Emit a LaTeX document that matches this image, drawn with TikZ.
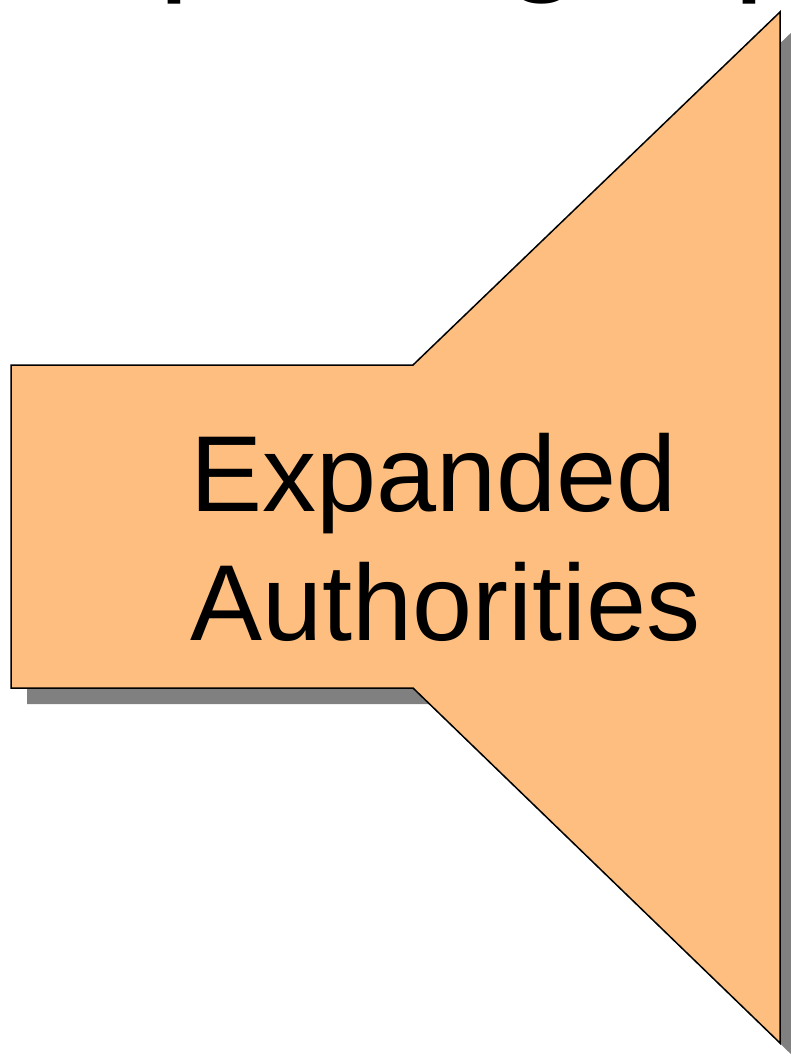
\documentclass[tikz,border=0pt]{standalone}
\usepackage{fontspec}
\setmainfont{Liberation Sans}
\usetikzlibrary{shadows,positioning}
\definecolor{funnel}{RGB}{253,190,127}
\tikzset{
  funnelshape/.style={fill=funnel,draw=black,line width=1.5pt,
    drop shadow={shadow xshift=16pt,shadow yshift=-16pt,fill=black!50,opacity=1}},
  bigtext/.style={font=\fontsize{108}{129}\selectfont,inner sep=0pt},
  titletext/.style={font=\fontsize{143}{160}\selectfont,inner sep=0pt,anchor=base west}
}
\begin{document}
\begin{tikzpicture}[x=1pt,y=-1pt]
  \useasboundingbox (0,0) rectangle (791,1057);
  \clip (0,0) rectangle (791,1057);
  \draw[funnelshape] (11,365) -- (413,365) -- (780,12) -- (780,1043)
    -- (413,688) -- (11,688) -- cycle;
  \node[bigtext,align=left,anchor=south west] (label) at (190,642) {Expanded\\Authorities};
  % title above, cut off by the page edge
  \node[titletext] (title1) at (158,-25) {p};
  \node[titletext] (title2) at (503,-25) {g};
  \node[titletext] (title3) at (733,-25) {p};
\end{tikzpicture}
\end{document}
